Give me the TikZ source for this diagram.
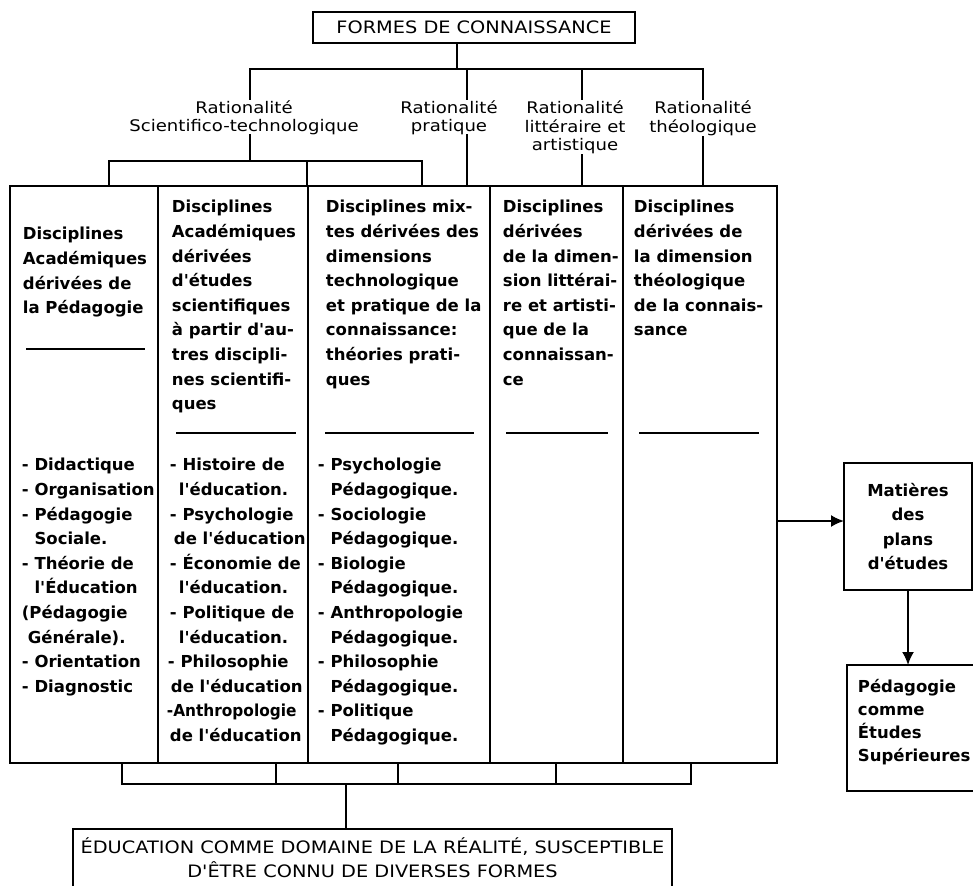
\documentclass[tikz,border=0pt]{standalone}
\usepackage{fontspec}
\setmainfont{DejaVu Sans}[Ligatures=TeXOff]
\newfontfamily\headfont[FakeStretch=1.13,Ligatures=TeXOff]{DejaVu Sans}
\usetikzlibrary{arrows.meta}
\tikzset{>={Latex[length=13pt,width=12pt]}}
\tikzset{
  boxed/.style={draw, inner sep=0pt, outer sep=0pt},
  colbox/.style={boxed, anchor=north west, minimum height=577pt},
  capstext/.style={font=\headfont\fontsize{17.1}{24}\selectfont},
  ratlabel/.style={anchor=north, align=center, inner sep=0pt, font=\headfont\fontsize{16}{18}\selectfont},
  coltext/.style={anchor=north west, align=left, inner sep=0pt, font=\bfseries\fontsize{16.5}{24.6}\selectfont},
}
\newcommand*{\contline}{\hphantom{- }}

\begin{document}
\begin{tikzpicture}[x=1pt, y=-1pt, line width=1.9pt, line cap=rect]
\useasboundingbox (0,0) rectangle (973,885);

\node[boxed, capstext, minimum width=322pt, minimum height=31pt] (formes) at (474,27.5) {FORMES DE CONNAISSANCE};

\coordinate (jtop) at (457,69);
\coordinate (j1) at (250,69);
\coordinate (j2) at (467,69);
\coordinate (j3) at (582,69);
\coordinate (j4) at (703,69);

\node[ratlabel] (ratA) at (244,99.4) {\strut Rationalité\\Scientifico-technologique};
\node[ratlabel] (ratB) at (449,99.4) {\strut Rationalité\\pratique};
\node[ratlabel] (ratC) at (575,99.4) {\strut Rationalité\\littéraire et\\artistique};
\node[ratlabel] (ratD) at (703,99.4) {\strut Rationalité\\théologique};

\draw (formes.south -| jtop) -- (jtop);
\draw (j1) -- (j4);
\draw (j1) -- (ratA.north -| j1);
\draw (j2) -- (ratB.north -| j2);
\draw (j3) -- (ratC.north -| j3);
\draw (j4) -- (ratD.north -| j4);

\node[colbox, minimum width=148pt] (col1) at (10,186) {};
\node[colbox, minimum width=150pt] (col2) at (158,186) {};
\node[colbox, minimum width=182pt] (col3) at (308,186) {};
\node[colbox, minimum width=133pt] (col4) at (490,186) {};
\node[colbox, minimum width=154pt] (col5) at (623,186) {};

\coordinate (k) at (250,161);
\coordinate (k1) at (109,161);
\coordinate (k2) at (307,161);
\coordinate (k3) at (422,161);
\draw (ratA.south -| k) -- (k);
\draw (k1) -- (k3);
\draw (k1) -- (k1 |- col1.north);
\draw (k2) -- (k2 |- col2.north);
\draw (k3) -- (k3 |- col3.north);
\draw (ratB.south -| j2) -- (j2 |- col3.north);
\draw (ratC.south -| j3) -- (j3 |- col4.north);
\draw (ratD.south -| j4) -- (j4 |- col5.north);

\node[coltext] (head1) at (22,221.8) {\strut Disciplines\\Académiques\\dérivées de\\la Pédagogie};
\node[coltext] (head2) at (171,194.8) {\strut Disciplines\\Académiques\\dérivées\\d'études\\scientifiques\\à partir d'au-\\tres discipli-\\nes scientifi-\\ques};
\node[coltext] (head3) at (325,194.8) {\strut Disciplines mix-\\tes dérivées des\\dimensions\\technologique\\et pratique de la\\connaissance:\\théories prati-\\ques};
\node[coltext] (head4) at (502,194.8) {\strut Disciplines\\dérivées\\de la dimen-\\sion littérai-\\re et artisti-\\que de la\\connaissan-\\ce};
\node[coltext] (head5) at (633,194.8) {\strut Disciplines\\dérivées de\\la dimension\\théologique\\de la connais-\\sance};

\draw (27,349) -- (144,349);
\draw (177,433) -- (295,433);
\draw (326,433) -- (473,433);
\draw (507,433) -- (607,433);
\draw (640,433) -- (758,433);

\node[coltext] (list1) at (21,452.8) {\strut - Didactique\\- Organisation\\- Pédagogie\\\contline Sociale.\\- Théorie de\\\contline l'Éducation\\(Pédagogie\\\hspace*{6pt}Générale).\\- Orientation\\- Diagnostic};
\node[coltext] (list2) at (166,452.8) {\strut \hspace*{3pt}- Histoire de\\\hspace*{12pt}l'éducation.\\\hspace*{3pt}- Psychologie\\\hspace*{7pt}de l'éducation\\\hspace*{3pt}- Économie de\\\hspace*{12pt}l'éducation.\\\hspace*{3pt}- Politique de\\\hspace*{12pt}l'éducation.\\\hspace*{1pt}- Philosophie\\\hspace*{4pt}de l'éducation\\{\addfontfeature{FakeStretch=0.93}-Anthropologie}\\\hspace*{3pt}de l'éducation};
\node[coltext] (list3) at (317,452.8) {\strut - Psychologie\\\contline Pédagogique.\\- Sociologie\\\contline Pédagogique.\\- Biologie\\\contline Pédagogique.\\- Anthropologie\\\contline Pédagogique.\\- Philosophie\\\contline Pédagogique.\\- Politique\\\contline Pédagogique.};

\coordinate (b1) at (122,784);
\coordinate (b2) at (276,784);
\coordinate (b3) at (398,784);
\coordinate (b4) at (556,784);
\coordinate (b5) at (691,784);
\coordinate (bm) at (346,784);
\draw (b1 |- col1.south) -- (b1);
\draw (b2 |- col2.south) -- (b2);
\draw (b3 |- col3.south) -- (b3);
\draw (b4 |- col4.south) -- (b4);
\draw (b5 |- col5.south) -- (b5);
\draw (b1) -- (b5);

\node[anchor=north west, inner sep=0pt, outer sep=0pt, minimum width=599pt, minimum height=57pt] (educbox) at (73,829) {};
\draw (educbox.south west) -- (educbox.north west) -- (educbox.north east) -- (educbox.south east);
\draw (bm) -- (bm |- educbox.north);
\node[capstext, anchor=north, align=center, inner sep=0pt] (educ) at (372.5,836.2) {\strut ÉDUCATION COMME DOMAINE DE LA RÉALITÉ, SUSCEPTIBLE\\D'ÊTRE CONNU DE DIVERSES FORMES};

\node[boxed, align=center, minimum width=128pt, minimum height=127pt, font=\bfseries\fontsize{16.5}{24.3}\selectfont] (mat) at (908,526.5) {Matières\\des\\plans\\d'études};
\coordinate (arr) at ([yshift=5.5pt]mat.west);
\draw[->] (col5.east |- arr) -- (arr);

\node[anchor=north west, inner sep=0pt, outer sep=0pt, minimum width=130pt, minimum height=126pt] (ped) at (847,665) {};
\draw (ped.north east) -- (ped.north west) -- (ped.south west) -- (ped.south east);
\draw[->] (mat.south) -- (mat.south |- ped.north);
\node[coltext, font=\bfseries\fontsize{16.5}{23}\selectfont] (pedtxt) at (857,675.9) {\strut Pédagogie\\comme\\Études\\Supérieures};
\end{tikzpicture}
\end{document}
